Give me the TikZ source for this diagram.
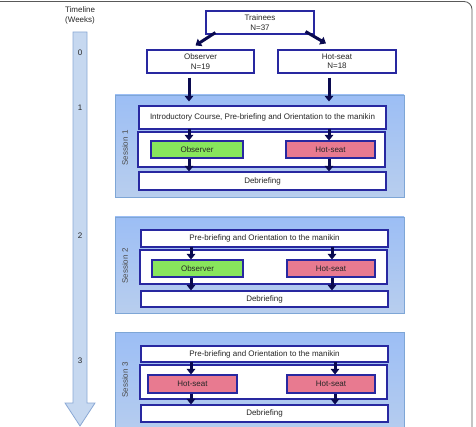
\documentclass[tikz,border=0pt]{standalone}
\usepackage{fontspec}
\setmainfont{Liberation Sans}
\usepackage{tikz}
\usetikzlibrary{arrows.meta, positioning, calc}

\definecolor{boxline}{RGB}{40,40,160}
\definecolor{arrowcol}{RGB}{10,10,80}
\definecolor{obsgreen}{RGB}{136,230,92}
\definecolor{hotpink}{RGB}{232,122,144}
\definecolor{paneltop}{RGB}{156,190,245}
\definecolor{panelbot}{RGB}{184,206,238}
\definecolor{panelline}{RGB}{126,166,214}
\definecolor{timefill}{RGB}{198,216,240}
\definecolor{timeline}{RGB}{138,168,212}

\begin{document}
\begin{tikzpicture}[x=1pt, y=-1pt,
    font=\fontsize{8}{9.4}\selectfont, text=black!85,
    box/.style={draw=boxline, line width=1.1pt, fill=white, inner sep=0pt, align=center},
    obsbox/.style={box, fill=obsgreen},
    hotbox/.style={box, fill=hotpink},
    panel/.style={draw=panelline, line width=0.8pt, top color=paneltop, bottom color=panelbot, inner sep=0pt},
    flow/.style={draw=arrowcol, line width=3pt, -{Triangle[width=8.5pt,length=5.5pt]}},
    sesslabel/.style={rotate=90, text=black!70}
  ]
    \useasboundingbox (0,0) rectangle (476,427);

    % Frame
    \draw[black!65, line width=0.8pt, rounded corners=8pt] (0,1.5) -- (472,1.5) -- (472,430);

    % Timeline
    \node[align=center] (tltitle) at (80,15.5) {Timeline\\(Weeks)};
    \filldraw[fill=timefill, draw=timeline, line width=0.8pt]
      (73,32) -- (87,32) -- (87,403) -- (95,403) -- (80,426) -- (65,403) -- (73,403) -- cycle;
    \node (wk0) at (80,53) {0};
    \node (wk1) at (80,108) {1};
    \node (wk2) at (80,236) {2};
    \node (wk3) at (80,361) {3};

    % Allocation
    \node[box, minimum width=108pt, minimum height=23pt] (train) at (260,22.5) {Trainees\\N=37};
    \node[box, minimum width=107pt, minimum height=23pt] (obs0) at (200.5,61.5) {Observer\\N=19};
    \node[box, minimum width=118pt, minimum height=23pt] (hot0) at (337,61.5) {Hot-seat\\N=18};
    \draw[flow] ([xshift=10pt,yshift=2pt]train.south west) -- ([xshift=-5pt,yshift=4pt]obs0.north);
    \draw[flow] ([xshift=-9pt,yshift=3pt]train.south east) -- ([xshift=-11pt,yshift=6pt]hot0.north);

    % Session 1
    \node[panel, minimum width=289pt, minimum height=102pt] (sess1) at (259.5,146) {};
    \node[box, minimum width=247pt, minimum height=23pt] (intro1) at (262.5,117.5)
      {Introductory Course, Pre-briefing and Orientation to the manikin};
    \node[box, minimum width=247pt, minimum height=35pt] (cont1) at (261.5,149.5) {};
    \node[obsbox, minimum width=92pt, minimum height=17pt] (obs1) at (197,149.5) {Observer};
    \node[hotbox, minimum width=89pt, minimum height=17pt] (hot1) at (330.5,149.5) {Hot-seat};
    \node[box, minimum width=247pt, minimum height=18pt] (deb1) at (262.5,181) {Debriefing};
    \node[sesslabel] (lab1) at (125,148) {Session 1};
    \coordinate (l1) at (189,0);
    \coordinate (r1) at (329,0);
    \draw[flow] ([yshift=-4pt]obs0.south -| l1) -- ([yshift=4pt]intro1.north -| l1);
    \draw[flow] ([yshift=-4pt]hot0.south -| r1) -- ([yshift=4pt]intro1.north -| r1);
    \draw[flow] ([yshift=1pt]intro1.south -| l1) -- (obs1.north -| l1);
    \draw[flow] ([yshift=1pt]intro1.south -| r1) -- (hot1.north -| r1);
    \draw[flow] (obs1.south -| l1) -- (deb1.north -| l1);
    \draw[flow] (hot1.south -| r1) -- (deb1.north -| r1);

    % Session 2
    \node[panel, minimum width=289pt, minimum height=96pt] (sess2) at (259.5,265) {};
    \node[box, minimum width=247pt, minimum height=17pt] (pre2) at (264.5,238.5)
      {Pre-briefing and Orientation to the manikin};
    \node[box, minimum width=247pt, minimum height=34pt] (cont2) at (263.5,267) {};
    \node[obsbox, minimum width=91pt, minimum height=17pt] (obs2) at (197.5,268.5) {Observer};
    \node[hotbox, minimum width=88pt, minimum height=17pt] (hot2) at (331,268.5) {Hot-seat};
    \node[box, minimum width=247pt, minimum height=16pt] (deb2) at (264.5,299) {Debriefing};
    \node[sesslabel] (lab2) at (125,266) {Session 2};
    \coordinate (l2) at (191,0);
    \coordinate (r2) at (332,0);
    \draw[flow] ([yshift=1pt]pre2.south -| l2) -- (obs2.north -| l2);
    \draw[flow] ([yshift=1pt]pre2.south -| r2) -- (hot2.north -| r2);
    \draw[flow] (obs2.south -| l2) -- (deb2.north -| l2);
    \draw[flow] (hot2.south -| r2) -- (deb2.north -| r2);

    % Session 3
    \node[panel, minimum width=289pt, minimum height=108pt] (sess3) at (259.5,386) {};
    \node[box, minimum width=247pt, minimum height=16pt] (pre3) at (264.5,354)
      {Pre-briefing and Orientation to the manikin};
    \node[box, minimum width=247pt, minimum height=34pt] (cont3) at (263.5,382) {};
    \node[hotbox, minimum width=89pt, minimum height=18pt] (hot3a) at (192.5,384) {Hot-seat};
    \node[hotbox, minimum width=88pt, minimum height=18pt] (hot3b) at (331,384) {Hot-seat};
    \node[box, minimum width=247pt, minimum height=17pt] (deb3) at (264.5,413.5) {Debriefing};
    \node[sesslabel] (lab3) at (125,380) {Session 3};
    \coordinate (l3) at (191,0);
    \coordinate (r3) at (335,0);
    \draw[flow] ([yshift=1pt]pre3.south -| l3) -- (hot3a.north -| l3);
    \draw[flow] ([yshift=1pt]pre3.south -| r3) -- (hot3b.north -| r3);
    \draw[flow] (hot3a.south -| l3) -- (deb3.north -| l3);
    \draw[flow] (hot3b.south -| r3) -- (deb3.north -| r3);

\end{tikzpicture}
\end{document}
